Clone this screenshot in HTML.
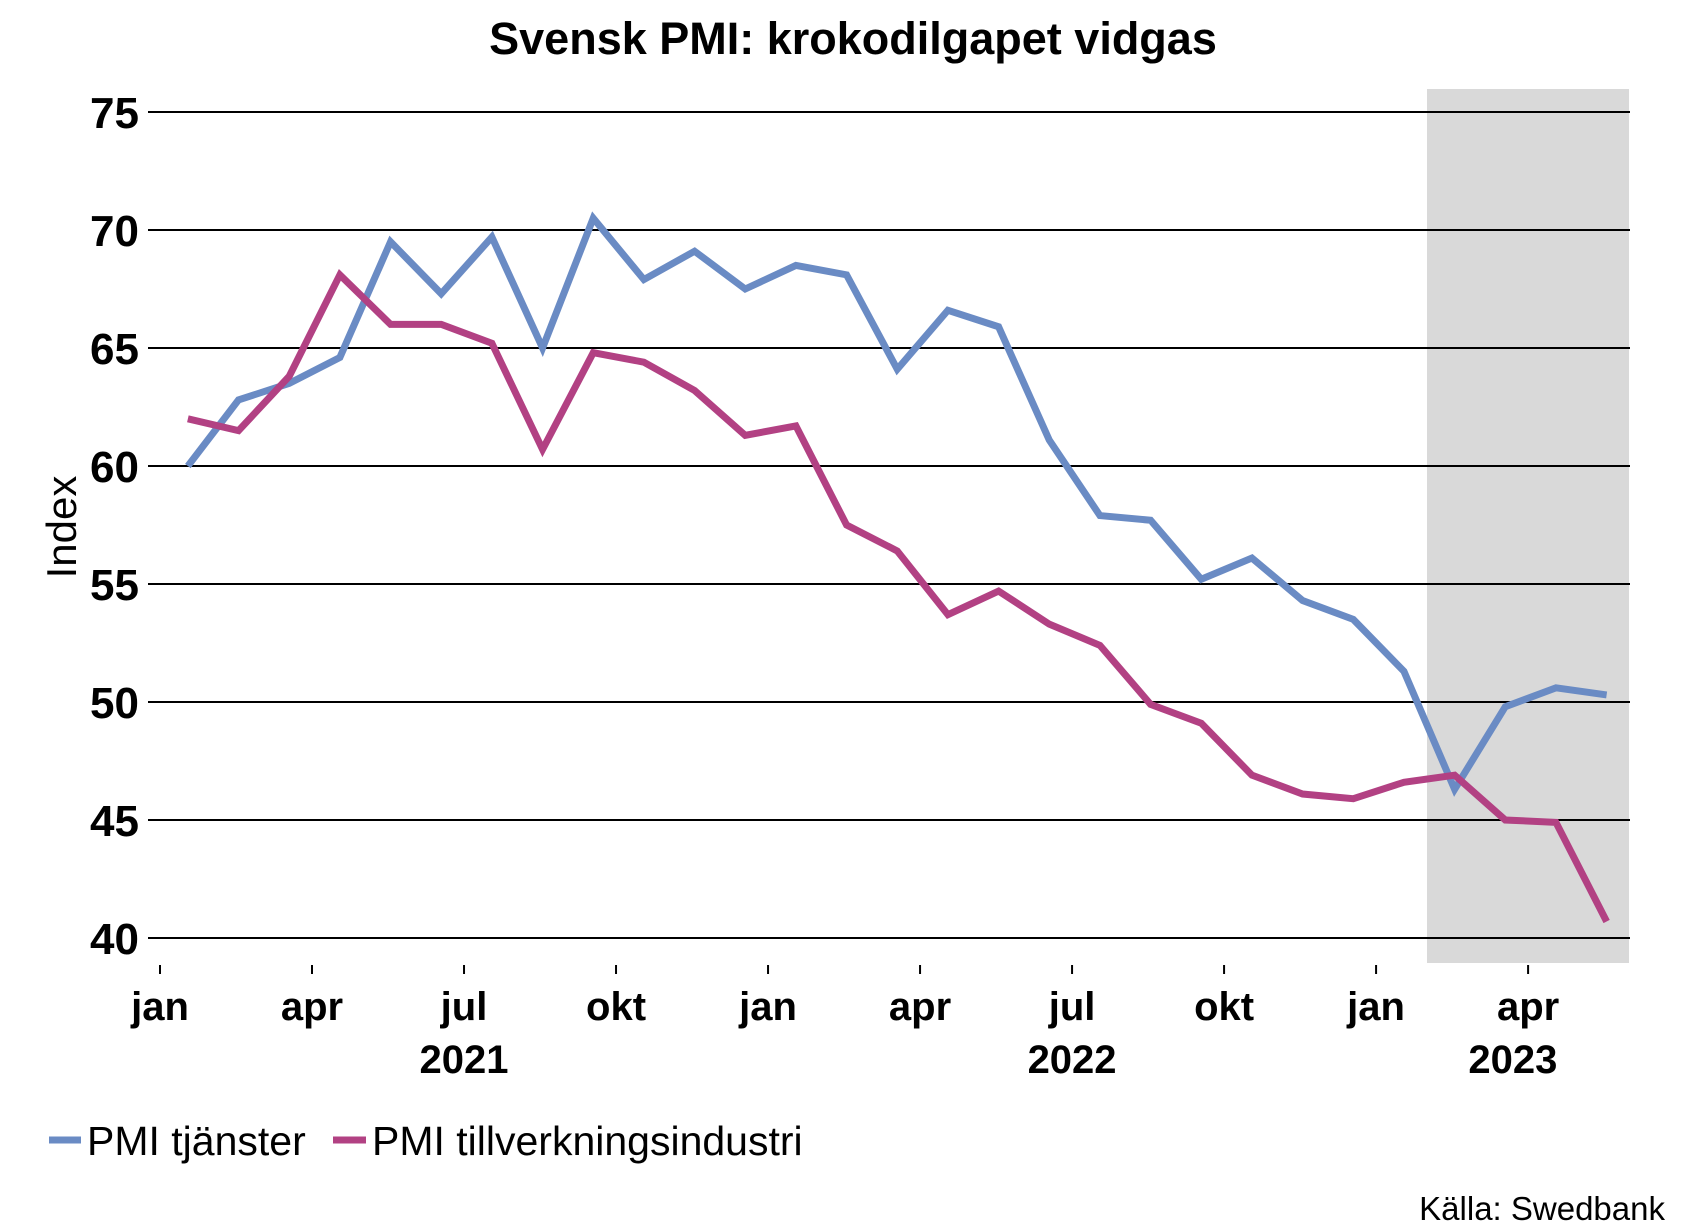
<!DOCTYPE html>
<html><head><meta charset="utf-8"><style>
html,body{margin:0;padding:0;background:#fff}
svg{display:block;font-family:"Liberation Sans",Arial,sans-serif}
</style></head><body>
<svg width="1690" height="1230" viewBox="0 0 1690 1230">
<text x="853" y="54" text-anchor="middle" font-size="45" font-weight="bold">Svensk PMI: krokodilgapet vidgas</text>
<rect x="1427" y="89" width="202" height="874" fill="#d9d9d9"/>
<g id="grid"></g>
<g id="xaxis"></g>
<text transform="translate(76,527) rotate(-90)" text-anchor="middle" font-size="42">Index</text>
<g id="series"></g>
<g>
<line x1="49" y1="1140" x2="81" y2="1140" stroke="#6a8bc4" stroke-width="7"/>
<text x="87" y="1155" font-size="41">PMI tjänster</text>
<line x1="333" y1="1140" x2="366" y2="1140" stroke="#b24183" stroke-width="7"/>
<text x="372" y="1155" font-size="41">PMI tillverkningsindustri</text>
</g>
<text x="1665" y="1220" text-anchor="end" font-size="33">Källa: Swedbank</text>
</svg>
<script>
const yTicks=[40,45,50,55,60,65,70,75];
const monthLabels=["jan","apr","jul","okt","jan","apr","jul","okt","jan","apr"];
const yearLabels=["2021","2022","2023"];
const services=[60,62.8,63.5,64.6,69.5,67.3,69.7,65.0,70.5,67.9,69.1,67.5,68.5,68.1,64.1,66.6,65.9,61.1,57.9,57.7,55.2,56.1,54.3,53.5,51.3,46.3,49.8,50.6,50.3];
const manufacturing=[62.0,61.5,63.8,68.1,66.0,66.0,65.2,60.7,64.8,64.4,63.2,61.3,61.7,57.5,56.4,53.7,54.7,53.3,52.4,49.9,49.1,46.9,46.1,45.9,46.6,46.9,45.0,44.9,40.7];
const NS="http://www.w3.org/2000/svg";
const X0=160,MW=50.67,Y40=938,PU=23.6;
const y=v=>Y40-(v-40)*PU;
const xm=m=>X0+m*MW;
const xp=i=>xm(i+0.55);
function mk(tag,attrs,parent){const e=document.createElementNS(NS,tag);for(const k in attrs)e.setAttribute(k,attrs[k]);parent.appendChild(e);return e;}
const grid=document.getElementById('grid');
yTicks.forEach(v=>{
 const l=mk('line',{x1:148,x2:1630,y1:y(v),y2:y(v),stroke:'#000','stroke-width':2},grid);
 
 
 const t=mk('text',{x:139,y:y(v)+16,'text-anchor':'end','font-size':44,'font-weight':'bold'},grid);
 t.textContent=v;
 
 
});
const xa=document.getElementById('xaxis');
monthLabels.forEach((m,i)=>{
 const x=xm(i*3);
 const tk=mk('line',{x1:x,x2:x,y1:965,y2:974,stroke:'#000','stroke-width':2},xa);
 
 
 const t=mk('text',{x:x,y:1020,'text-anchor':'middle','font-size':40,'font-weight':'bold'},xa);
 t.textContent=m;
 
 
});
[6,18,26.7].forEach((m,i)=>{
 const t=mk('text',{x:xm(m),y:1073,'text-anchor':'middle','font-size':40,'font-weight':'bold'},xa);
 t.textContent=yearLabels[i];
 
 
});
const sg=document.getElementById('series');
[[services,'#6a8bc4','line-pmi-services'],[manufacturing,'#b24183','line-pmi-manufacturing']].forEach(([d,c,n])=>{
 const p=mk('polyline',{points:d.map((v,i)=>xp(i)+','+y(v)).join(' '),fill:'none',stroke:c,'stroke-width':7,'stroke-linejoin':'miter'},sg);
 
 
});
</script>
</body></html>
